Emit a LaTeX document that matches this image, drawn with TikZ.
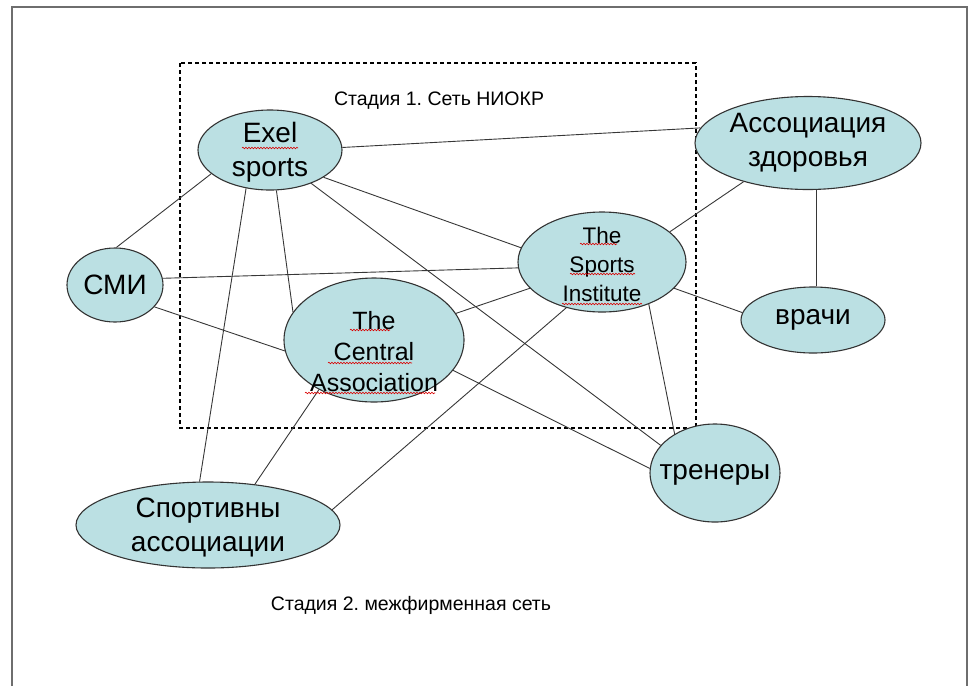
\documentclass[tikz,border=0pt]{standalone}
\usepackage{fontspec}
\setmainfont{Liberation Sans}
\usetikzlibrary{shapes.geometric,decorations.pathmorphing}
\definecolor{fillc}{RGB}{187,224,227}
\definecolor{edgec}{RGB}{55,55,55}
\definecolor{framec}{RGB}{110,110,110}
\frenchspacing
\begin{document}
\begin{tikzpicture}[x=1pt,y=-1pt,
  ell/.style={ellipse, draw=black!80, line width=1.1pt, fill=fillc, inner sep=0pt},
  txt/.style={align=center, inner sep=0pt, font=\fontsize{28}{34}\selectfont},
  small/.style={align=center, inner sep=0pt, font=\fontsize{22.5}{29}\selectfont},
  mid/.style={align=center, inner sep=0pt, font=\fontsize{25}{31}\selectfont},
  link/.style={draw=edgec, line width=0.9pt},
  stage/.style={inner sep=0pt, font=\fontsize{19.5}{22}\selectfont},
  spell/.style={draw=red!85!black, line width=0.6pt, decorate,
    decoration={snake, amplitude=0.8pt, segment length=3pt}}]
\useasboundingbox (0,0) rectangle (973,686);
\draw[framec, line width=2pt] (12,686) -- (12,7) -- (967,7) -- (967,686);
\draw[line width=1.2pt, dash pattern=on 4pt off 3pt] (180,63) rectangle (696,428);

% ellipses
\node[ell, minimum width=144, minimum height=80] (exel) at (270,150) {};
\node[ell, minimum width=226, minimum height=93] (ass) at (808,143) {};
\node[ell, minimum width=168, minimum height=100] (sport) at (602,262) {};
\node[ell, minimum width=96, minimum height=74] (smi) at (115,285) {};
\node[ell, minimum width=180, minimum height=124] (cen) at (374,340) {};
\node[ell, minimum width=144, minimum height=66] (vr) at (813,320) {};
\node[ell, minimum width=130, minimum height=98] (tren) at (715,473) {};
\node[ell, minimum width=264, minimum height=86] (sass) at (208,525) {};

% connectors
\draw[link] (exel.2) -- (ass.172);
\draw[link] (exel.-158) -- (smi.88);
\draw[link] (exel.-27) -- (sport.170);
\draw[link] (exel.-81) -- (cen.161);
\draw[link] (exel.-122) -- (sass.101);
\draw[link] (exel.-39) -- (tren.153);
\draw[link] (smi.8) -- (sport.-176);
\draw[link] (smi.-29) -- (cen.187);
\draw[link] (sport.24) -- (ass.-149);
\draw[link] (sport.-20) -- (vr.174);
\draw[link] (sport.-160) -- (cen.18);
\draw[link] (sport.-42) -- (tren.136);
\draw[link] (sport.-128) -- (sass.7);
\draw[link] (ass.-80) -- (ass.-80 |- vr.north);
\draw[link] (cen.-21) -- (tren.176);
\draw[link] (cen.-138) -- (sass.41);

% texts
\node[txt] (exelT) at (270,152) {Exel\\sports};
\node[txt] (assT) at (808,143) {Ассоциация\\здоровья};
\node[small] (sportT) at (602,264) {The\\Sports\\Institute};
\node[txt] (smiT) at (115,285) {СМИ};
\node[mid] (cenT) at (374,352) {The\\Central\\Association};
\node[txt] (vrT) at (813,320) {врачи};
\node[txt] (trenT) at (715,475) {тренеры};
\node[txt] (sassT) at (208,528) {Спортивны\\ассоциации};

\node[stage] (st1) at (439,101) {Стадия 1. Сеть НИОКР};
\node[stage] (st2) at (411,605) {Стадия 2. межфирменная сеть};

% spell-check underlines
\draw[spell] (242,148) -- (298,148);
\draw[spell] (580,244) -- (617,244);
\draw[spell] (570,274) -- (635,274);
\draw[spell] (562,304) -- (642,304);
\draw[spell] (350,330) -- (390,330);
\draw[spell] (328,363) -- (412,363);
\draw[spell] (305,393) -- (435,393);
\end{tikzpicture}
\end{document}
